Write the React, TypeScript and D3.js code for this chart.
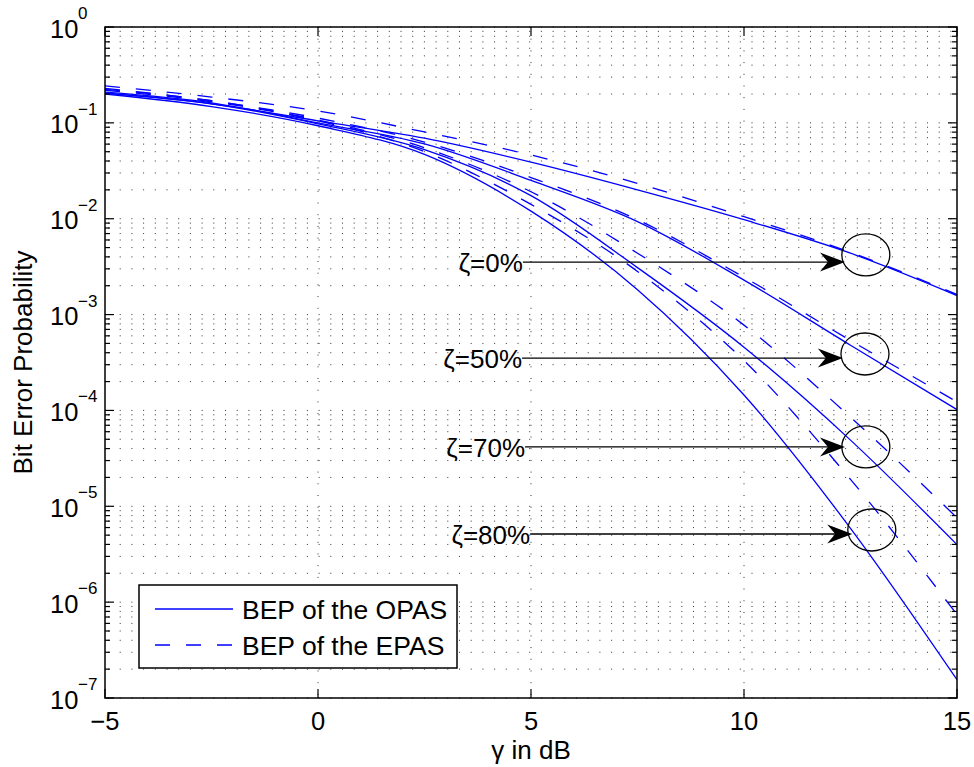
import React from 'react';
import * as d3 from 'd3';

// ---- data ----
const snrDb = [-5, -2.5, 0, 2.5, 5, 7.5, 10, 12.5, 15];

// BEP of the OPAS (solid)
const opasZeta0 = [0.204, 0.158, 0.105, 0.0692, 0.0389, 0.0200, 0.00977, 0.00437, 0.00158];
const opasZeta50 = [0.209, 0.162, 0.100, 0.0603, 0.0251, 0.00933, 0.00229, 4.79e-4, 1.02e-4];
const opasZeta70 = [0.204, 0.158, 0.0977, 0.0525, 0.0174, 0.00309, 4.57e-4, 4.9e-5, 3.98e-6];
const opasZeta80 = [0.200, 0.148, 0.0933, 0.0468, 0.0120, 0.00182, 1.45e-4, 5.89e-6, 1.55e-7];

// BEP of the EPAS (dashed)
const epasZeta0 = [0.243, 0.186, 0.133, 0.0804, 0.0462, 0.0234, 0.0105, 0.00447, 0.00162];
const epasZeta50 = [0.229, 0.170, 0.112, 0.0631, 0.0269, 0.00977, 0.00245, 5.37e-4, 1.23e-4];
const epasZeta70 = [0.224, 0.170, 0.107, 0.0550, 0.0191, 0.00437, 7.76e-4, 8.51e-5, 7.59e-6];
const epasZeta80 = [0.219, 0.166, 0.105, 0.0501, 0.0141, 0.00282, 3.31e-4, 1.91e-5, 7.41e-7];

const xTicks = [-5, 0, 5, 10, 15];
const yExponents = [0, -1, -2, -3, -4, -5, -6, -7];

const legendLabels = ['BEP of the OPAS', 'BEP of the EPAS'];

// annotations (data coordinates)
const annLabels = ['ζ=0%', 'ζ=50%', 'ζ=70%', 'ζ=80%'];
const annArrowY = [3.53e-3, 3.52e-4, 4.16e-5, 5.14e-6];
const annTextEndX = [4.81, 4.79, 4.86, 4.98];
const annTipX = [12.37, 12.32, 12.37, 12.54];
const annCircleX = [12.86, 12.84, 12.86, 13.0];
const annCircleY = [4.19e-3, 3.88e-4, 4.16e-5, 5.66e-6];

// ---- layout ----
const W = 974;
const H = 767;
const left = 105;
const right = 957;
const top = 27;
const bottom = 698;
const FONT = '"Liberation Sans", Arial, Helvetica, sans-serif';

export default function App() {
  const x = d3.scaleLinear().domain([-5, 15]).range([left, right]);
  const y = d3.scaleLog().domain([1e-7, 1]).range([bottom, top]);

  const line = d3
    .line<[number, number]>()
    .x((d) => x(d[0]))
    .y((d) => y(d[1]))
    .curve(d3.curveMonotoneX);

  const solid = [opasZeta0, opasZeta50, opasZeta70, opasZeta80];
  const dashed = [epasZeta0, epasZeta50, epasZeta70, epasZeta80];
  const toPts = (vals: number[]) => snrDb.map((s, i) => [s, vals[i]] as [number, number]);

  const minorVals: number[] = [];
  for (let e = -7; e < 0; e++) {
    for (let k = 1; k < 10; k++) minorVals.push(k * Math.pow(10, e));
  }
  minorVals.push(1);

  const blue = '#0000ff';
  const dash = '15 16';
  const gridStyle = { stroke: '#333', strokeWidth: 1, strokeDasharray: '1 10.7' };

  return (
    <svg
      width={W}
      height={H}
      style={{ position: 'absolute', left: 0, top: 0, background: '#fff' }}
      fontFamily={FONT}
    >
      <rect x={0} y={0} width={W} height={H} fill="#fff" />
      <defs>
        <clipPath id="plotClip">
          <rect x={left} y={top} width={right - left} height={bottom - top} />
        </clipPath>
      </defs>

      {/* grid */}
      <g>
        {minorVals.map((v, i) => (
          <line key={'gy' + i} x1={left + 3} x2={right} y1={y(v)} y2={y(v)} {...gridStyle} />
        ))}
        {xTicks
          .filter((t) => t > -5 && t < 15)
          .map((t) => (
            <line key={'gx' + t} x1={x(t)} x2={x(t)} y1={top} y2={bottom} {...gridStyle} />
          ))}
      </g>

      {/* curves */}
      <g clipPath="url(#plotClip)" fill="none">
        {solid.map((s, i) => (
          <path key={'s' + i} d={line(toPts(s)) || ''} stroke={blue} strokeWidth={1.3} />
        ))}
        {dashed.map((s, i) => (
          <path
            key={'d' + i}
            d={line(toPts(s)) || ''}
            stroke={blue}
            strokeWidth={1.3}
            strokeDasharray={dash}
          />
        ))}
      </g>

      {/* annotations */}
      <g>
        {annLabels.map((lab, i) => {
          const ay = y(annArrowY[i]);
          const sx = x(annTextEndX[i]);
          const tx = x(annTipX[i]);
          const L = 25;
          const Wh = 9.5;
          return (
            <g key={'ann' + i}>
              <text x={sx} y={ay + 10} fontSize={26} textAnchor="end" fill="#000">
                {lab}
              </text>
              <line x1={sx} x2={tx - L * 0.6} y1={ay} y2={ay} stroke="#000" strokeWidth={1.3} />
              <path
                d={`M${tx},${ay} L${tx - L},${ay - Wh} L${tx - L * 0.68},${ay} L${tx - L},${ay + Wh} Z`}
                fill="#000"
              />
              <ellipse
                cx={x(annCircleX[i])}
                cy={y(annCircleY[i])}
                rx={24}
                ry={21}
                fill="none"
                stroke="#000"
                strokeWidth={1.3}
              />
            </g>
          );
        })}
      </g>

      {/* axes box */}
      <rect
        x={left}
        y={top}
        width={right - left}
        height={bottom - top}
        fill="none"
        stroke="#000"
        strokeWidth={1.5}
      />

      {/* ticks */}
      <g stroke="#000" strokeWidth={1.2}>
        {minorVals.map((v, i) => {
          const isMajor = Math.abs(Math.log10(v) - Math.round(Math.log10(v))) < 1e-9;
          const len = isMajor ? 9 : 5;
          return (
            <g key={'yt' + i}>
              <line x1={left} x2={left + len} y1={y(v)} y2={y(v)} />
              <line x1={right} x2={right - len} y1={y(v)} y2={y(v)} />
            </g>
          );
        })}
        {xTicks.map((t) => (
          <g key={'xt' + t}>
            <line x1={x(t)} x2={x(t)} y1={bottom} y2={bottom - 9} />
            <line x1={x(t)} x2={x(t)} y1={top} y2={top + 9} />
          </g>
        ))}
      </g>

      {/* y tick labels */}
      <g fill="#000">
        {yExponents.map((e) => {
          const py = y(Math.pow(10, e));
          return (
            <g key={'yl' + e}>
              <text x={50} y={py + 10.5} fontSize={25.5}>
                10
              </text>
              <text x={78} y={py - 8} fontSize={17}>
                {e === 0 ? '0' : '\u2212' + Math.abs(e)}
              </text>
            </g>
          );
        })}
      </g>

      {/* x tick labels */}
      <g fill="#000">
        {xTicks.map((t) => (
          <text key={'xl' + t} x={x(t)} y={730} fontSize={25.5} textAnchor="middle">
            {t < 0 ? '\u2212' + Math.abs(t) : String(t)}
          </text>
        ))}
      </g>

      {/* axis labels */}
      <text x={(left + right) / 2} y={759} fontSize={26} textAnchor="middle" fill="#000">
        γ in dB
      </text>
      <text
        transform={`translate(32, ${(top + bottom) / 2}) rotate(-90)`}
        fontSize={26}
        textAnchor="middle"
        fill="#000"
      >
        Bit Error Probability
      </text>

      {/* legend */}
      <g>
        <rect x={139} y={585} width={318} height={83} fill="#fff" stroke="#000" strokeWidth={1.5} />
        {legendLabels.map((lab, i) => {
          const ly = 609 + i * 36;
          return (
            <g key={'lg' + i}>
              <line
                x1={155}
                x2={233}
                y1={ly}
                y2={ly}
                stroke={blue}
                strokeWidth={1.3}
                strokeDasharray={i === 1 ? dash : undefined}
              />
              <text x={242} y={ly + 9.5} fontSize={26.5} fill="#000">
                {lab}
              </text>
            </g>
          );
        })}
      </g>
    </svg>
  );
}
